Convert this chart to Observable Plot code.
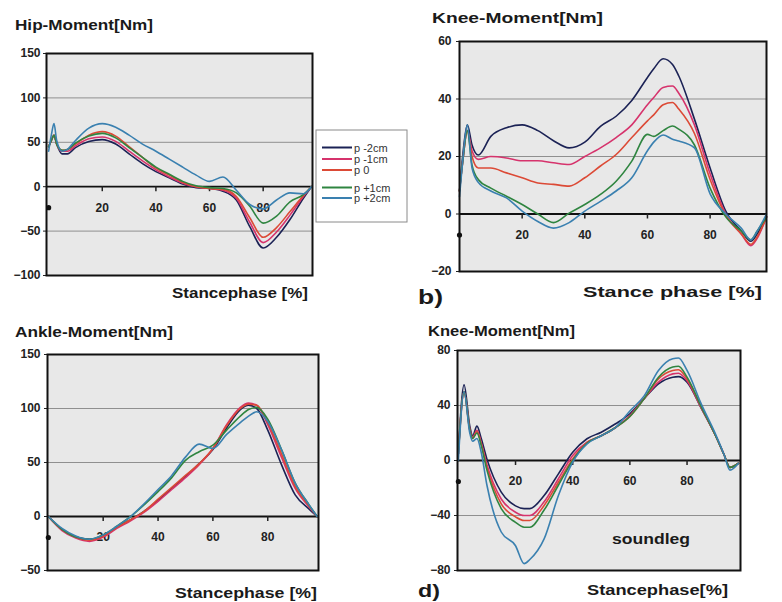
<!DOCTYPE html>
<html>
<head>
<meta charset="utf-8">
<script src="https://cdn.jsdelivr.net/npm/d3@7"></script>
<script src="https://cdn.jsdelivr.net/npm/@observablehq/plot@0.6"></script>
<style>
  body { margin: 0; background: #fff; }
  #wrap { position: relative; width: 782px; height: 602px; overflow: hidden; font-family: "Liberation Sans", Arial, sans-serif; }
  .panel { position: absolute; }
  #overlay { position: absolute; left: 0; top: 0; }
</style>
</head>
<body>
<div id="wrap"></div>
<script>
// ---- series ----
const seriesNames = ["p -2cm", "p -1cm", "p 0", "p +1cm", "p +2cm"];
const seriesColors = ["#1b2255", "#d6336c", "#dc4a36", "#2f8540", "#3a80b0"];

// ---- a) Hip moment ----
const hipX  = [0, 1, 2, 3, 5, 7, 10, 15, 20, 25, 30, 35, 40, 45, 50, 55, 60, 65, 70, 75, 80, 85, 90, 95, 98];
const hipM2 = [45, 52, 58, 48, 37, 37, 44, 51, 53, 48, 37, 26, 17, 10, 3, -1, -2, -5, -15, -45, -69, -57, -37, -13, 0];
const hipM1 = [45, 52, 58, 48, 40, 40, 46, 54, 56, 51, 40, 29, 19, 11, 4, 0, -2, -4, -13, -40, -63, -51, -32, -11, 0];
const hip0  = [45, 52, 58, 48, 41, 42, 48, 58, 62, 57, 45, 33, 21, 13, 5, 0, -2, -3, -11, -35, -57, -46, -28, -10, 0];
const hipP1 = [45, 52, 58, 48, 41, 42, 49, 57, 60, 55, 44, 33, 22, 14, 6, 1, -1, -2, -7, -22, -41, -33, -17, -9, 0];
const hipP2 = [40, 58, 71, 52, 40, 42, 52, 66, 71, 67, 58, 48, 40, 31, 22, 13, 6, 11, -4, -20, -25, -15, -7, -8, 0];
const hipYTicks = [-100, -50, 0, 50, 100, 150];

// ---- b) Knee moment ----
const kneeX  = [0, 1, 2.5, 4, 6, 10, 15, 20, 25, 30, 35, 40, 45, 50, 55, 60, 62, 65, 68, 70, 75, 80, 85, 90, 93, 95, 98];
const kneeM2 = [8, 20, 31, 24, 20.5, 27, 30, 31, 29, 25.5, 23, 25, 30.5, 34, 39.5, 47.5, 50.5, 54, 52, 48, 33, 16, 1, -6, -9.5, -7, -1];
const kneeM1 = [8, 18, 29, 22, 19, 20, 19.5, 18.5, 18.5, 17.8, 17.2, 20, 23, 26.6, 31, 38, 40.5, 44, 44.5, 42, 31, 14, 0, -7, -11, -8.5, -1];
const knee0  = [8, 18, 29, 20, 16, 16, 14.3, 12.6, 10.8, 10.3, 9.7, 12.6, 16.7, 20.7, 26.6, 32.4, 34.5, 38, 38.8, 36.5, 28, 12, -0.5, -7, -10.5, -8, -1];
const kneeP1 = [8, 18, 29, 17, 12, 9, 6.2, 3.3, 0, -3, 0.3, 3.3, 6.8, 11.4, 18.4, 27.7, 27, 29, 30.6, 29.5, 24, 9, -1, -6, -9, -6, -1];
const kneeP2 = [6, 18, 31, 16, 11, 8, 5.6, 1, -2.6, -4.9, -3, 1, 4.4, 8, 12.6, 22, 25, 27.5, 26, 25.4, 23, 7, 0, -5, -9, -6, 0];
const kneeYTicks = [-20, 0, 20, 40, 60];

// ---- c) Ankle moment ----
const ankleX  = [0, 5, 10, 15, 20, 25, 30, 35, 40, 45, 50, 55, 60, 65, 70, 73, 76, 80, 85, 90, 95, 98];
const ankleM2 = [0, -12, -19, -21, -18, -10, -3, 5, 15, 26, 37, 49, 62, 82, 99, 103, 100, 80, 48, 20, 7, 0];
const ankleM1 = [0, -13, -20, -23, -19, -11, -4, 4, 14, 25, 36, 48, 63, 85, 101, 105, 103, 85, 55, 26, 9, 0];
const ankle0  = [0, -12, -19, -22, -18, -10, -3, 5, 16, 27, 38, 49, 63, 84, 100, 104, 103, 87, 58, 28, 10, 0];
const ankleP1 = [0, -12, -19, -21, -17, -9, 0, 11, 23, 36, 52, 60, 66, 80, 93, 99, 101, 90, 62, 31, 11, 0];
const ankleP2 = [0, -11, -18, -21, -17, -9, 0, 12, 25, 38, 55, 67, 63, 76, 87, 93, 97, 88, 62, 31, 11, 0];
const ankleYTicks = [-50, 0, 50, 100, 150];

// ---- d) Knee moment, sound leg ----
const soundX  = [0, 2, 4, 5, 6.5, 8, 10, 15, 20, 23, 25, 30, 35, 40, 45, 50, 55, 60, 65, 70, 75, 77, 80, 85, 90, 93, 95, 98];
const soundM2 = [5, 55, 25, 18, 25, 16, 1, -23, -33, -35, -35, -25.5, -9.7, 6, 15.8, 20.6, 26.7, 34, 45, 55.8, 60.6, 61, 57, 38, 18, 4, -5, -2];
const soundM1 = [5, 50, 23, 17, 22, 13, -3, -28, -37.6, -40, -40, -30, -13.3, 3.6, 13.3, 18, 24, 32.7, 45, 57, 63, 63.5, 58, 38, 18, 4, -5, -2];
const sound0  = [5, 50, 22, 16, 21, 12, -5, -31.5, -41, -43.6, -43.6, -32.7, -15.8, 1.2, 13, 18, 24, 32, 45, 59.4, 65.5, 66, 59.4, 39, 18, 4, -5, -2];
const soundP1 = [5, 50, 22, 16, 20, 11, -7, -35, -45, -48.5, -48.5, -36, -18, 0, 12.5, 18, 24, 32, 45, 60.6, 68, 68.5, 60.6, 39, 18, 4, -5, -2];
const soundP2 = [0, 50, 20, 14, 16, 6, -18, -52, -62, -75, -72, -57, -25.5, -1.2, 12, 18, 24, 36, 47, 65.5, 74, 74.5, 65.5, 41, 19, 4, -7, -2];
const soundYTicks = [-80, -40, 0, 40, 80];

const xTickLabels = [20, 40, 60, 80];
const xZeroLabel = [0];

function tidy(xs, arrays) {
  return arrays.flatMap((arr, k) => arr.map((v, i) => ({x: xs[i], y: v, s: seriesNames[k]})));
}

const wrap = document.getElementById("wrap");

function panel({data, xDomain, yDomain, yTicks, box, frame, labelGap}) {
  const [sl, st, sw, sh] = box;
  const [fl, ft, fr, fb] = frame;
  const pxPerY = (fb - ft) / (yDomain[1] - yDomain[0]);
  const tickLen = 5 / pxPerY;
  const svg = Plot.plot({
    width: sw, height: sh,
    marginLeft: fl - sl, marginTop: ft - st, marginRight: sl + sw - fr, marginBottom: st + sh - fb,
    x: {domain: xDomain, axis: null},
    y: {domain: yDomain, axis: null},
    color: {domain: seriesNames, range: seriesColors},
    style: {fontFamily: "'Liberation Sans', Arial, sans-serif", fontSize: "12px", fontWeight: "bold", color: "#222", background: "transparent", overflow: "visible"},
    marks: [
      Plot.frame({fill: "#e8e8e8"}),
      Plot.gridY(yTicks.filter(t => t !== 0), {stroke: "#8f8f8f", strokeOpacity: 1, strokeWidth: 1}),
      Plot.axisY(yTicks, {tickSize: 3, tickPadding: labelGap, label: null, stroke: "#222", fontSize: 12, fontWeight: "bold"}),
      Plot.ruleY([0], {stroke: "#111", strokeWidth: 1.8}),
      Plot.ruleX(xTickLabels, {x: d => d, y1: 0, y2: -tickLen, stroke: "#222", strokeWidth: 1.5}),
      Plot.text(xTickLabels, {x: d => d, y: 0, text: d => String(d), dy: 21, fontWeight: "bold", fontSize: 12, fill: "#222"}),
      Plot.dot(xZeroLabel, {x: d => d, y: 0, dy: 21, r: 2.6, fill: "#111", stroke: "none"}),
      Plot.line(data, {x: "x", y: "y", stroke: "s", strokeWidth: 1.6, curve: "monotone-x"}),
      Plot.frame({stroke: "#111", strokeWidth: 2})
    ]
  });
  svg.classList.add("panel");
  svg.style.left = sl + "px";
  svg.style.top = st + "px";
  wrap.appendChild(svg);
}

panel({data: tidy(hipX, [hipM2, hipM1, hip0, hipP1, hipP2]), xDomain: [-0.8, 98.4], yDomain: [-100, 150], yTicks: hipYTicks,
       box: [0, 40, 318, 250], frame: [46, 53, 312, 275], labelGap: 3});
panel({data: tidy(kneeX, [kneeM2, kneeM1, knee0, kneeP1, kneeP2]), xDomain: [0, 98], yDomain: [-20, 60], yTicks: kneeYTicks,
       box: [420, 30, 360, 250], frame: [459, 41, 766, 271], labelGap: 5});
panel({data: tidy(ankleX, [ankleM2, ankleM1, ankle0, ankleP1, ankleP2]), xDomain: [-0.3, 98.5], yDomain: [-50, 150], yTicks: ankleYTicks,
       box: [0, 340, 325, 240], frame: [47, 354, 318, 570], labelGap: 4});
panel({data: tidy(soundX, [soundM2, soundM1, sound0, soundP1, soundP2]), xDomain: [-0.3, 98.7], yDomain: [-80, 80], yTicks: soundYTicks,
       box: [420, 340, 330, 240], frame: [457, 350, 740, 570], labelGap: 4});

// ---- texts & legend overlay ----
const titles = [
  {t: "Hip-Moment[Nm]", x: 15, y: 30, len: 138, size: 15},
  {t: "Knee-Moment[Nm]", x: 432, y: 23, len: 171, size: 15},
  {t: "Ankle-Moment[Nm]", x: 15, y: 337, len: 158, size: 15},
  {t: "Knee-Moment[Nm]", x: 428, y: 336, len: 147, size: 15},
  {t: "Stancephase [%]", x: 172, y: 298, len: 136, size: 15},
  {t: "Stance phase [%]", x: 583, y: 297, len: 179, size: 15},
  {t: "Stancephase [%]", x: 175, y: 598, len: 142, size: 15},
  {t: "Stancephase[%]", x: 587, y: 595, len: 141, size: 15},
  {t: "b)", x: 418, y: 304, len: 25, size: 20},
  {t: "d)", x: 418, y: 597, len: 22, size: 18},
  {t: "soundleg", x: 612, y: 544, len: 78, size: 15}
];
const ns = "http://www.w3.org/2000/svg";
const ov = document.createElementNS(ns, "svg");
ov.setAttribute("id", "overlay");
ov.setAttribute("width", 782);
ov.setAttribute("height", 602);
ov.style.fontFamily = "'Liberation Sans', Arial, sans-serif";
for (const d of titles) {
  const el = document.createElementNS(ns, "text");
  el.setAttribute("x", d.x); el.setAttribute("y", d.y);
  el.setAttribute("font-size", d.size); el.setAttribute("font-weight", "bold");
  el.setAttribute("fill", "#1a1a1a");
  el.setAttribute("textLength", d.len); el.setAttribute("lengthAdjust", "spacingAndGlyphs");
  el.textContent = d.t;
  ov.appendChild(el);
}
// legend
const lg = {x: 316, y: 130, w: 91, h: 92, rows: [147.5, 159, 170, 187.5, 198]};
const box = document.createElementNS(ns, "rect");
box.setAttribute("x", lg.x); box.setAttribute("y", lg.y); box.setAttribute("width", lg.w); box.setAttribute("height", lg.h);
box.setAttribute("fill", "#fff"); box.setAttribute("stroke", "#8a8a8a"); box.setAttribute("stroke-width", 1);
ov.appendChild(box);
seriesNames.forEach((name, i) => {
  const yy = lg.rows[i];
  const ln = document.createElementNS(ns, "line");
  ln.setAttribute("x1", lg.x + 6); ln.setAttribute("x2", lg.x + 36);
  ln.setAttribute("y1", yy); ln.setAttribute("y2", yy);
  ln.setAttribute("stroke", seriesColors[i]); ln.setAttribute("stroke-width", 2);
  ov.appendChild(ln);
  const tx = document.createElementNS(ns, "text");
  tx.setAttribute("x", lg.x + 38); tx.setAttribute("y", yy + 4);
  tx.setAttribute("font-size", 11); tx.setAttribute("fill", "#333");
  tx.textContent = name;
  ov.appendChild(tx);
});
wrap.appendChild(ov);
</script>
</body>
</html>
